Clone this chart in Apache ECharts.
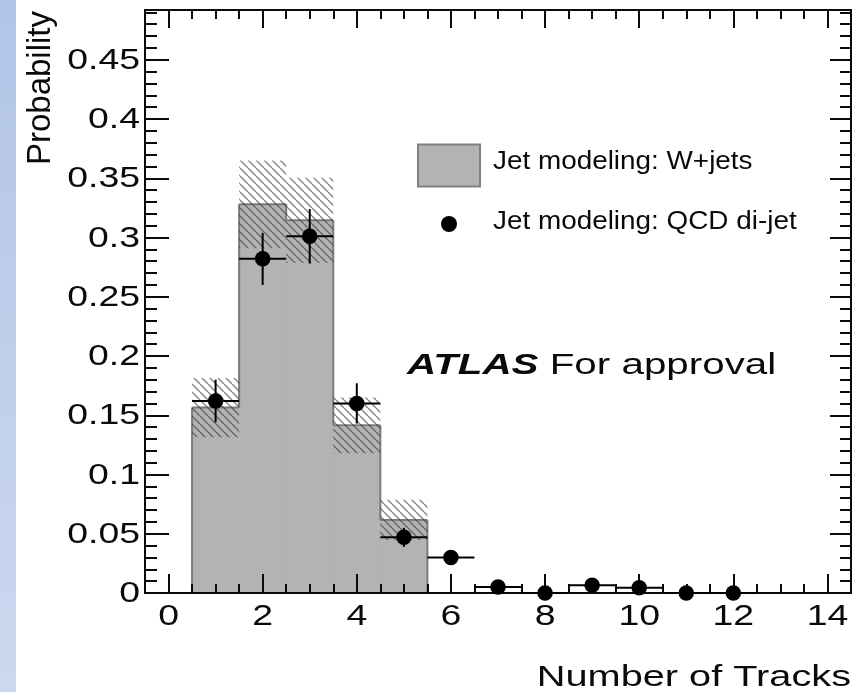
<!DOCTYPE html>
<html>
<head>
<meta charset="utf-8">
<title>Number of Tracks</title>
<script src="https://cdn.jsdelivr.net/npm/echarts@6/dist/echarts.min.js"></script>
<style>
  html, body { margin: 0; padding: 0; background: #ffffff; }
  #chart { width: 865px; height: 692px; }
</style>
</head>
<body>
<div id="chart"></div>
<script>
// Bin centres of the track-multiplicity histogram (unit-width bins)
const binCenters = [1, 2, 3, 4, 5, 6, 7, 8, 9, 10, 11, 12, 13, 14];

// Jet modeling: W+jets (filled histogram) and its uncertainty band
const wjetsProb = [0.1565, 0.328, 0.3145, 0.1415, 0.0617, 0, 0, 0, 0, 0, 0, 0, 0, 0];
const wjetsUnc  = [0.025, 0.037, 0.036, 0.0235, 0.017, 0, 0, 0, 0, 0, 0, 0, 0, 0];

// Jet modeling: QCD di-jet (points with error bars)
const qcdBins = [1, 2, 3, 4, 5, 6, 7, 8, 9, 10, 11, 12];
const qcdProb = [0.162, 0.282, 0.301, 0.160, 0.047, 0.030, 0.005, 0.000, 0.0065, 0.0045, 0.000, 0.000];
const qcdErr  = [0.018, 0.022, 0.023, 0.017, 0.008, 0.004, 0.003, 0.002, 0.003, 0.003, 0.002, 0.002];

// Axis ticks and labels
const xTickValues = [0, 2, 4, 6, 8, 10, 12, 14];
const xTickLabels = ['0', '2', '4', '6', '8', '10', '12', '14'];
const xMinorTicks = [0.5, 1, 1.5, 2.5, 3, 3.5, 4.5, 5, 5.5, 6.5, 7, 7.5, 8.5, 9, 9.5,
                     10.5, 11, 11.5, 12.5, 13, 13.5];
const yTickValues = [0, 0.05, 0.1, 0.15, 0.2, 0.25, 0.3, 0.35, 0.4, 0.45];
const yTickLabels = ['0', '0.05', '0.1', '0.15', '0.2', '0.25', '0.3', '0.35', '0.4', '0.45'];
const yMinorTicks = [0.01, 0.02, 0.03, 0.04, 0.06, 0.07, 0.08, 0.09, 0.11, 0.12, 0.13, 0.14,
                     0.16, 0.17, 0.18, 0.19, 0.21, 0.22, 0.23, 0.24, 0.26, 0.27, 0.28, 0.29,
                     0.31, 0.32, 0.33, 0.34, 0.36, 0.37, 0.38, 0.39, 0.41, 0.42, 0.43, 0.44,
                     0.46, 0.47, 0.48, 0.49];

const X_MIN = -0.5, X_MAX = 14.5, Y_MIN = 0, Y_MAX = 0.492;
const FONT = '"Liberation Sans", Arial, Helvetica, sans-serif';
const INK = '#0a0a0a';
const FILL_GREY = '#b3b3b3';
const EDGE_GREY = '#7b7b7b';

// "\\\\" hatch tile for the uncertainty band
const hatchTile = document.createElement('canvas');
hatchTile.width = 8; hatchTile.height = 8;
(function () {
  const g = hatchTile.getContext('2d');
  g.strokeStyle = 'rgba(55,55,55,0.6)';
  g.lineWidth = 1.4;
  [-8, 0, 8].forEach(function (o) {
    g.beginPath(); g.moveTo(o, 0); g.lineTo(o + 8, 8); g.stroke();
  });
})();

function frameAxis(dim, position, ticks, len, major) {
  return {
    type: 'value',
    position: position,
    min: dim === 'x' ? X_MIN : Y_MIN,
    max: dim === 'x' ? X_MAX : Y_MAX,
    z: 5,
    axisLine: { show: major, onZero: false, lineStyle: { color: INK, width: 2 } },
    axisTick: { show: true, inside: true, length: len, customValues: ticks,
                lineStyle: { color: INK, width: 2 } },
    axisLabel: { show: false, customValues: ticks },
    splitLine: { show: false },
    minorTick: { show: false },
    minorSplitLine: { show: false }
  };
}

const histData = binCenters.map(function (c, i) {
  return [c, wjetsProb[i], i > 0 ? wjetsProb[i - 1] : 0];
});
const bandData = binCenters.map(function (c, i) { return [c, wjetsProb[i], wjetsUnc[i]]; });
const qcdData = qcdBins.map(function (c, i) { return [c, qcdProb[i], qcdErr[i]]; });

const chart = echarts.init(document.getElementById('chart'), null, { renderer: 'canvas' });

chart.setOption({
  animation: false,
  backgroundColor: '#ffffff',
  grid: { left: 145, right: 14, top: 10, bottom: 99, containLabel: false, outerBoundsMode: 'none' },
  xAxis: [
    frameAxis('x', 'bottom', xTickValues, 19, true),
    frameAxis('x', 'bottom', xMinorTicks, 9, false),
    frameAxis('x', 'top', xTickValues, 18, true),
    frameAxis('x', 'top', xMinorTicks, 9, false)
  ],
  yAxis: [
    frameAxis('y', 'left', yTickValues, 24, true),
    frameAxis('y', 'left', yMinorTicks, 12, false),
    frameAxis('y', 'right', yTickValues, 21, true),
    frameAxis('y', 'right', yMinorTicks, 11, false)
  ],
  graphic: [
    {
      type: 'rect', x: 0, y: 0, z: -10,
      shape: { width: 16, height: 692 },
      style: { fill: new echarts.graphic.LinearGradient(0, 0, 0, 1, [
        { offset: 0, color: '#b2c5e7' }, { offset: 1, color: '#ccd8ef' }]) }
    },
    {
      type: 'text', x: 41, y: 88, rotation: Math.PI / 2,
      style: { text: 'Probability', fontSize: 33, fontFamily: FONT, fill: INK,
               align: 'center', verticalAlign: 'middle' }
    },
    {
      type: 'text', x: 851, y: 678, scaleX: 1.37,
      style: { text: 'Number of Tracks', fontSize: 29, fontFamily: FONT, fill: INK,
               align: 'right', verticalAlign: 'middle' }
    },
    {
      type: 'text', x: 407, y: 366, scaleX: 1.345,
      style: {
        text: '{a|ATLAS} For approval', fontSize: 30, fontFamily: FONT, fill: INK,
        align: 'left', verticalAlign: 'middle',
        rich: { a: { fontSize: 30, fontFamily: FONT, fontWeight: 'bold', fontStyle: 'italic', fill: INK } }
      }
    },
    {
      type: 'rect', x: 418, y: 144.5,
      shape: { width: 62, height: 42 },
      style: { fill: FILL_GREY, stroke: '#808080', lineWidth: 2 }
    },
    {
      type: 'text', x: 493, y: 162, scaleX: 1.115,
      style: { text: 'Jet modeling: W+jets', fontSize: 25, fontFamily: FONT, fill: INK,
               align: 'left', verticalAlign: 'middle' }
    },
    {
      type: 'circle', shape: { cx: 449, cy: 224, r: 8 }, style: { fill: '#000000' }
    },
    {
      type: 'text', x: 493, y: 222, scaleX: 1.115,
      style: { text: 'Jet modeling: QCD di-jet', fontSize: 25, fontFamily: FONT, fill: INK,
               align: 'left', verticalAlign: 'middle' }
    }
  ],
  series: [
    {
      // W+jets filled step histogram
      type: 'custom', name: 'Jet modeling: W+jets', z: 1, silent: true, clip: false,
      encode: { x: 0, y: 1 },
      data: histData,
      renderItem: function (params, api) {
        const c = api.value(0), h = api.value(1), hp = api.value(2);
        const lo = api.coord([c - 0.5, 0]);
        const hi = api.coord([c + 0.5, h]);
        const prev = api.coord([c - 0.5, hp]);
        const kids = [];
        if (h > 0) {
          // slight overlap so neighbouring bins join without a seam
          kids.push({ type: 'rect',
            shape: { x: lo[0] - 0.6, y: hi[1], width: hi[0] - lo[0] + 1.2, height: lo[1] - hi[1] },
            style: { fill: FILL_GREY } });
          kids.push({ type: 'line',
            shape: { x1: lo[0], y1: hi[1], x2: hi[0], y2: hi[1] },
            style: { stroke: EDGE_GREY, lineWidth: 2 } });
        }
        if (h !== hp) {
          kids.push({ type: 'line',
            shape: { x1: lo[0], y1: prev[1], x2: lo[0], y2: hi[1] },
            style: { stroke: EDGE_GREY, lineWidth: 2 }, z2: 2 });
        }
        return { type: 'group', children: kids };
      }
    },
    {
      // W+jets uncertainty band (hatched)
      type: 'custom', name: 'W+jets uncertainty', z: 2, silent: true, clip: false,
      encode: { x: 0, y: 1 },
      data: bandData,
      renderItem: function (params, api) {
        const c = api.value(0), h = api.value(1), e = api.value(2);
        if (!(e > 0)) return { type: 'group', children: [] };
        const a = api.coord([c - 0.5, h + e]);
        const b = api.coord([c + 0.5, h - e]);
        return { type: 'rect',
          shape: { x: a[0], y: a[1], width: b[0] - a[0], height: b[1] - a[1] },
          style: { fill: { image: hatchTile, repeat: 'repeat' } } };
      }
    },
    {
      // QCD di-jet error bars
      type: 'custom', name: 'QCD error bars', z: 6, silent: true, clip: false,
      encode: { x: 0, y: 1 },
      data: qcdData,
      renderItem: function (params, api) {
        const c = api.value(0), v = api.value(1), e = api.value(2);
        const l = api.coord([c - 0.5, v]);
        const r = api.coord([c + 0.5, v]);
        const t = api.coord([c, v + e]);
        const btm = api.coord([c, v - e]);
        const st = { stroke: '#000000', lineWidth: 2 };
        return { type: 'group', children: [
          { type: 'line', shape: { x1: l[0], y1: l[1], x2: r[0], y2: r[1] }, style: st },
          { type: 'line', shape: { x1: t[0], y1: t[1], x2: btm[0], y2: btm[1] }, style: st }
        ] };
      }
    },
    {
      type: 'scatter', name: 'Jet modeling: QCD di-jet', z: 7, clip: false, silent: true,
      symbol: 'circle', symbolSize: 15.5,
      itemStyle: { color: '#000000', borderWidth: 0, opacity: 1 },
      data: qcdBins.map(function (c, i) { return [c, qcdProb[i]]; })
    },
    {
      // x tick labels
      type: 'custom', name: 'x labels', z: 7, silent: true, clip: false,
      encode: { x: 0, y: 1 },
      data: xTickValues.map(function (v) { return [v, Y_MIN]; }),
      renderItem: function (params, api) {
        const p = api.coord([api.value(0), api.value(1)]);
        return { type: 'text', x: p[0], y: p[1] + 23.5, scaleX: 1.29,
          style: { text: xTickLabels[params.dataIndex], fontSize: 29, fontFamily: FONT, fill: INK,
                   align: 'center', verticalAlign: 'middle' } };
      }
    },
    {
      // y tick labels
      type: 'custom', name: 'y labels', z: 7, silent: true, clip: false,
      encode: { x: 0, y: 1 },
      data: yTickValues.map(function (v) { return [X_MIN, v]; }),
      renderItem: function (params, api) {
        const p = api.coord([api.value(0), api.value(1)]);
        return { type: 'text', x: p[0] - 5, y: p[1] + 1, scaleX: 1.29,
          style: { text: yTickLabels[params.dataIndex], fontSize: 29, fontFamily: FONT, fill: INK,
                   align: 'right', verticalAlign: 'middle' } };
      }
    }
  ]
});
</script>
</body>
</html>
